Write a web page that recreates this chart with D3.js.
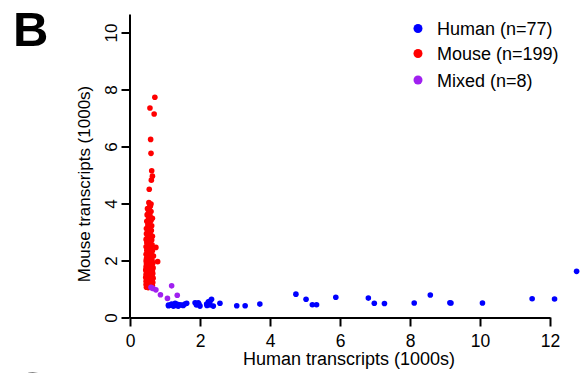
<!DOCTYPE html>
<html>
<head>
<meta charset="utf-8">
<script src="https://cdn.jsdelivr.net/npm/d3@7"></script>
<style>
  body { margin: 0; background: #fff; }
  svg { display: block; font-family: "Liberation Sans", Arial, sans-serif; }
</style>
</head>
<body>
<div class="chart"></div>
<script>
// x = human transcripts (1000s), y = mouse transcripts (1000s)
var humanPoints = [
    [1.10, 0.41], [1.10, 0.44], [1.19, 0.47], [1.24, 0.40], [1.29, 0.50], [1.29, 0.44],
    [1.33, 0.42], [1.38, 0.40], [1.42, 0.45], [1.48, 0.44], [1.52, 0.42], [1.57, 0.47],
    [1.62, 0.50], [1.15, 0.43], [1.35, 0.46], [1.86, 0.52], [1.90, 0.44], [1.95, 0.52],
    [2.00, 0.40], [1.97, 0.47], [2.19, 0.47], [2.24, 0.55], [2.29, 0.44], [2.33, 0.64],
    [2.29, 0.58], [2.38, 0.40], [2.20, 0.42], [2.57, 0.50], [3.05, 0.41], [3.29, 0.41],
    [3.71, 0.47], [4.74, 0.82], [5.03, 0.64], [5.21, 0.45], [5.33, 0.45], [5.88, 0.71],
    [6.81, 0.68], [6.98, 0.50], [7.27, 0.49], [8.12, 0.51], [8.58, 0.79], [9.14, 0.52],
    [9.17, 0.51], [10.07, 0.51], [11.49, 0.66], [12.13, 0.65], [12.76, 1.62]
];

var mousePoints = [
    [0.71, 7.73], [0.57, 7.35], [0.69, 7.14], [0.59, 6.25], [0.60, 5.76], [0.62, 5.15],
    [0.64, 4.96], [0.61, 4.82], [0.55, 4.50], [0.54, 4.03], [0.57, 3.95], [0.60, 3.98],
    [0.52, 3.66], [0.54, 3.54], [0.64, 3.48], [0.74, 2.46], [0.79, 1.96],
    [0.58, 3.90], [0.50, 3.82], [0.55, 3.78], [0.60, 3.72], [0.49, 3.60], [0.57, 3.58],
    [0.53, 3.45], [0.60, 3.40], [0.48, 3.38], [0.56, 3.32], [0.51, 3.25], [0.62, 3.22],
    [0.58, 3.18], [0.47, 3.12], [0.54, 3.10], [0.61, 3.05], [0.50, 3.02], [0.57, 2.98],
    [0.47, 2.94], [0.53, 2.90], [0.60, 2.88], [0.64, 2.85], [0.50, 2.82], [0.56, 2.78],
    [0.46, 2.74], [0.62, 2.72], [0.52, 2.68], [0.58, 2.65], [0.48, 2.62], [0.55, 2.58],
    [0.63, 2.55], [0.50, 2.52], [0.46, 2.48], [0.57, 2.46], [0.53, 2.42], [0.60, 2.40],
    [0.48, 2.36], [0.64, 2.34], [0.55, 2.32], [0.50, 2.28], [0.58, 2.25], [0.46, 2.22],
    [0.62, 2.20], [0.53, 2.18], [0.67, 2.16], [0.49, 2.14], [0.56, 2.12], [0.60, 2.08],
    [0.47, 2.06], [0.52, 2.04], [0.58, 2.02], [0.63, 2.00],
    [0.46, 1.98], [0.54, 1.97], [0.61, 1.95], [0.50, 1.93], [0.57, 1.92], [0.65, 1.90],
    [0.47, 1.88], [0.53, 1.87], [0.60, 1.85], [0.49, 1.83], [0.56, 1.82], [0.63, 1.80],
    [0.46, 1.78], [0.52, 1.77], [0.59, 1.75], [0.66, 1.74], [0.48, 1.72], [0.55, 1.71],
    [0.62, 1.69], [0.45, 1.67], [0.51, 1.66], [0.58, 1.65], [0.64, 1.63], [0.47, 1.61],
    [0.54, 1.60], [0.60, 1.58], [0.49, 1.56], [0.57, 1.55], [0.65, 1.54], [0.46, 1.52],
    [0.52, 1.51], [0.59, 1.49], [0.63, 1.47], [0.48, 1.46], [0.55, 1.45], [0.61, 1.43],
    [0.45, 1.41], [0.51, 1.40], [0.58, 1.39], [0.66, 1.38], [0.47, 1.36], [0.54, 1.35],
    [0.60, 1.33], [0.49, 1.31], [0.56, 1.30], [0.63, 1.29], [0.46, 1.27], [0.52, 1.26],
    [0.59, 1.24], [0.65, 1.23], [0.48, 1.21], [0.55, 1.20], [0.61, 1.18], [0.46, 1.16],
    [0.51, 1.15], [0.58, 1.14], [0.64, 1.12], [0.48, 1.10], [0.54, 1.09], [0.60, 1.08],
    [0.47, 1.06], [0.52, 1.05], [0.57, 1.07], [0.50, 1.12], [0.56, 1.17], [0.53, 1.23],
    [0.50, 1.34], [0.57, 1.42], [0.53, 1.53], [0.50, 1.62], [0.57, 1.70], [0.53, 1.79],
    [0.50, 1.90], [0.58, 1.96]
];

var mixedPoints = [
    [0.62, 1.04], [0.66, 1.02], [0.74, 0.97], [0.87, 0.80], [1.07, 0.67],
    [1.19, 1.11], [1.35, 0.78], [0.60, 1.06]
];

var xTicks = [0, 2, 4, 6, 8, 10, 12];
var yTicks = [0, 2, 4, 6, 8, 10];

var legendLabels = ["Human (n=77)", "Mouse (n=199)", "Mixed (n=8)"];
var groupColors = ["#0000ff", "#ff0000", "#a020f0"];

var svgWidth = 583;
var svgHeight = 373;

var svg = d3.select(".chart")
    .append("svg")
    .attr("width", svgWidth)
    .attr("height", svgHeight);

var xScale = d3.scaleLinear()
    .domain([0, 12])
    .range([130, 550]);

var yScale = d3.scaleLinear()
    .domain([0, 10.65])
    .range([317.5, 14]);

// axes
var xAxis = svg.append("g")
    .attr("transform", "translate(0, 317.5)")
    .call(d3.axisBottom(xScale).tickValues(xTicks).tickSize(9).tickSizeOuter(0));

xAxis.selectAll("text")
    .attr("y", 29.5)
    .attr("dy", 0)
    .style("font-size", "17.5px")
    .attr("fill", "#000");

var yAxis = svg.append("g")
    .attr("transform", "translate(129.5, 0)")
    .call(d3.axisLeft(yScale).tickValues(yTicks).tickSize(8).tickSizeOuter(0));

yAxis.selectAll("text")
    .attr("x", 0)
    .attr("y", -12.5)
    .attr("dy", 0)
    .attr("text-anchor", "middle")
    .attr("transform", "rotate(-90)")
    .style("font-size", "17px")
    .attr("fill", "#000");

svg.selectAll(".domain, .tick line")
    .attr("stroke", "#000")
    .attr("stroke-width", 2);

// axis titles
svg.append("text")
    .attr("x", 349)
    .attr("y", 365)
    .attr("text-anchor", "middle")
    .style("font-size", "18px")
    .text("Human transcripts (1000s)");

svg.append("text")
    .attr("transform", "translate(90, 184) rotate(-90)")
    .attr("text-anchor", "middle")
    .style("font-size", "17px")
    .text("Mouse transcripts (1000s)");

// points
var groups = [humanPoints, mousePoints, mixedPoints];
groups.forEach(function (pts, i) {
    svg.append("g")
        .selectAll("circle")
        .data(pts)
        .enter()
        .append("circle")
        .attr("cx", d => xScale(d[0]))
        .attr("cy", d => yScale(d[1]))
        .attr("r", 2.8)
        .attr("fill", groupColors[i]);
});

// legend
var legendY = [28.5, 53.5, 80];
var legend = svg.append("g");
legendLabels.forEach(function (label, i) {
    legend.append("circle")
        .attr("cx", 418)
        .attr("cy", legendY[i])
        .attr("r", 4.5)
        .attr("fill", groupColors[i]);
    legend.append("text")
        .attr("x", 437)
        .attr("y", legendY[i] + 6.5)
        .style("font-size", "18px")
        .text(label);
});

// panel letters
svg.append("text")
    .attr("x", 13)
    .attr("y", 46)
    .style("font-size", "49px")
    .style("font-weight", "bold")
    .text("B");

svg.append("text")
    .attr("x", 14)
    .attr("y", 406)
    .style("font-size", "49px")
    .style("font-weight", "bold")
    .text("C");
</script>
</body>
</html>
